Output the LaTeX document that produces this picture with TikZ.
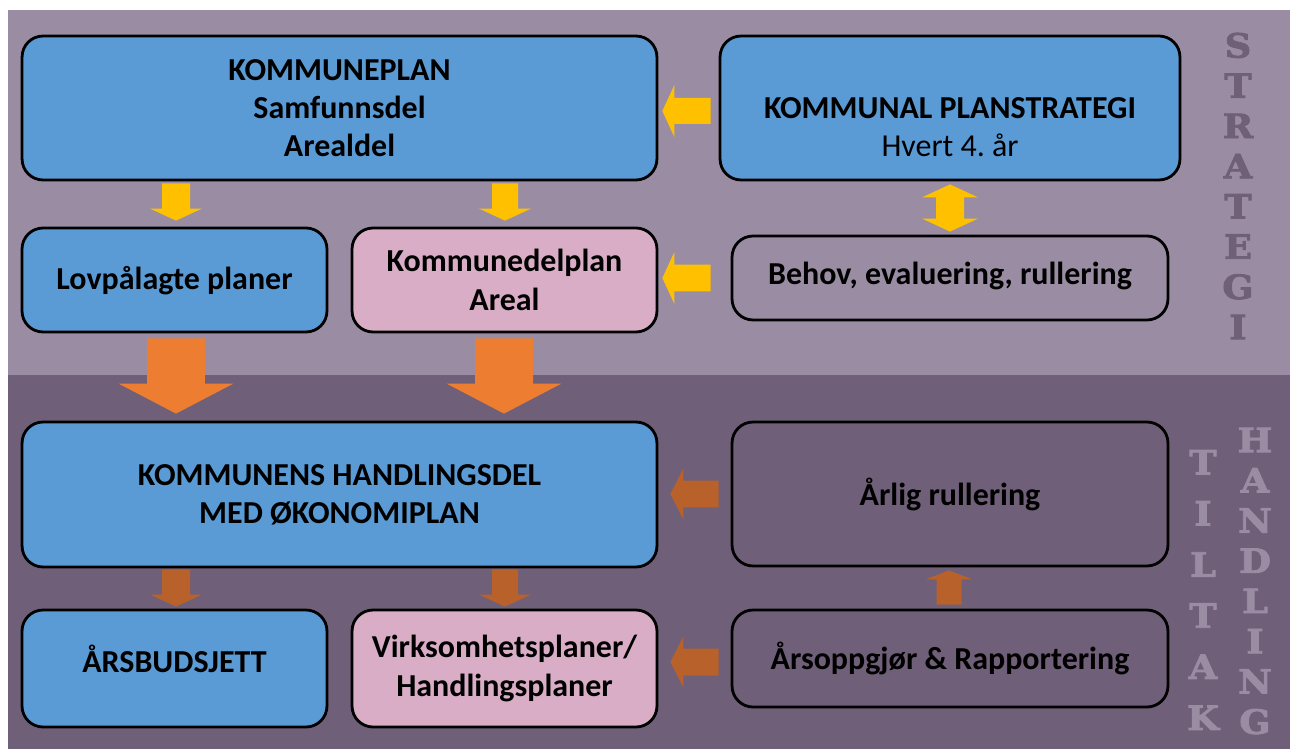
\documentclass[tikz,border=0pt]{standalone}
\usepackage{fontspec}
\setmainfont{Carlito}
\newfontfamily\sidefont[FakeBold=2.5, FakeStretch=1.1]{DejaVu Serif Bold}
\usetikzlibrary{calc}
\usetikzlibrary{positioning}
\definecolor{bgtop}{HTML}{9A8DA3}
\definecolor{bgbot}{HTML}{705F78}
\definecolor{planblue}{HTML}{5B9BD5}
\definecolor{planpink}{HTML}{D8ADC5}
\definecolor{arryellow}{HTML}{FFC000}
\definecolor{arrorange}{HTML}{ED7D31}
\definecolor{arrbrown}{HTML}{B8612A}
\tikzset{planbox/.style = {draw, line width=1.6pt, rounded corners=0.42cm, align=center, inner sep=0,
                           font=\fontsize{18.2}{21.8}\selectfont\bfseries}}
\tikzset{bluebox/.style = {planbox, fill=planblue}}
\tikzset{pinkbox/.style = {planbox, fill=planpink}}
\tikzset{sidetext/.style = {align=center, inner sep=0}}
% block arrow: colour, tail, tip, shaft half width, head half width, head length
\newcommand\blockarrow[6]{%
  \coordinate (tail) at #2;
  \coordinate (tip) at #3;
  \coordinate (hb) at ($(tip)!#6!(tail)$);
  \fill [#1] ($(tail)!#4!90:(tip)$) -- ($(hb)!#4!90:(tip)$) -- ($(hb)!#5!90:(tip)$) -- (tip)
             -- ($(hb)!#5!-90:(tip)$) -- ($(hb)!#4!-90:(tip)$) -- ($(tail)!#4!-90:(tip)$) -- cycle;}

\begin{document}
\begin{tikzpicture}[x=0.02cm, y=-0.02cm]
    \useasboundingbox (0, 0) rectangle (1290, 749);
    \fill [bgtop] (8, 10) rectangle (1290, 375);
    \fill [bgbot] (8, 375) rectangle (1290, 749);

    \node [bluebox, minimum width=12.7cm, minimum height=2.88cm] (plan) at (339.5, 108) {KOMMUNEPLAN\\Samfunnsdel\\Arealdel};
    \node [bluebox, minimum width=9.2cm, minimum height=2.88cm, text depth=0.12cm] (strat) at (950, 108) {\strut\\KOMMUNAL PLANSTRATEGI\\{\mdseries Hvert 4.\ år}};
    \node [bluebox, minimum width=6.1cm, minimum height=2.08cm, text depth=0.1cm] (lov) at (174.5, 280) {Lovpålagte planer};
    \node [pinkbox, minimum width=6.1cm, minimum height=2.08cm] (kdp) at (504.5, 280) {Kommunedelplan\\Areal};
    \node [planbox, minimum width=8.72cm, minimum height=1.68cm, text depth=0.2cm] (behov) at (950, 278) {Behov, evaluering, rullering};

    \node [bluebox, minimum width=12.7cm, minimum height=2.9cm] (hand) at (339.5, 494.5) {KOMMUNENS HANDLINGSDEL\\MED ØKONOMIPLAN};
    \node [planbox, minimum width=8.72cm, minimum height=2.88cm] (arlig) at (950, 494) {Årlig rullering};
    \node [bluebox, minimum width=6.1cm, minimum height=2.34cm, text depth=0.4cm] (budsj) at (174.5, 668.5) {ÅRSBUDSJETT};
    \node [pinkbox, minimum width=6.1cm, minimum height=2.34cm] (virk) at (504.5, 668.5) {Virksomhetsplaner/\\Handlingsplaner};
    \node [planbox, minimum width=8.72cm, minimum height=1.94cm] (arsopp) at (950, 658.5) {Årsoppgjør \& Rapportering};

    % strategi arrows
    \blockarrow{arryellow}{($(strat.west)+(-8, 3)$)}{($(plan.east)+(4, 3)$)}{0.26cm}{0.52cm}{0.24cm}
    \blockarrow{arryellow}{($(behov.west)+(-20, 0)$)}{($(kdp.east)+(4, -2)$)}{0.27cm}{0.52cm}{0.24cm}
    \blockarrow{arryellow}{($(plan.south -| lov.north)+(1.5, 2)$)}{($(lov.north)+(1.5, -6)$)}{0.28cm}{0.52cm}{0.24cm}
    \blockarrow{arryellow}{($(plan.south -| kdp.north)+(0.5, 2)$)}{($(kdp.north)+(0.5, -6)$)}{0.26cm}{0.52cm}{0.24cm}
    \coordinate (mid) at ($(strat.south)!0.5!(behov.north)$);
    \blockarrow{arryellow}{(mid)}{($(strat.south)+(0, 3)$)}{0.28cm}{0.56cm}{0.26cm}
    \blockarrow{arryellow}{(mid)}{($(behov.north)+(0, -3)$)}{0.28cm}{0.56cm}{0.26cm}

    % into handlingsdel
    \blockarrow{arrorange}{($(lov.south)+(1.5, 5)$)}{($(hand.north -| lov.south)+(1.5, -7)$)}{0.58cm}{1.15cm}{0.6cm}
    \blockarrow{arrorange}{($(kdp.south)+(-0.5, 5)$)}{($(hand.north -| kdp.south)+(-0.5, -7)$)}{0.58cm}{1.15cm}{0.6cm}

    % handling arrows
    \blockarrow{arrbrown}{($(arlig.west)+(-12, 0)$)}{($(hand.east)+(12, -0.5)$)}{0.27cm}{0.51cm}{0.26cm}
    \blockarrow{arrbrown}{($(arsopp.west)+(-12, 3.5)$)}{($(virk.east)+(12, -6.5)$)}{0.27cm}{0.51cm}{0.26cm}
    \blockarrow{arrbrown}{($(arsopp.north)+(-1, -4)$)}{($(arlig.south)+(-1, 3)$)}{0.25cm}{0.47cm}{0.18cm}
    \blockarrow{arrbrown}{($(hand.south -| budsj.north)+(1.5, 1)$)}{($(budsj.north)+(1.5, -2)$)}{0.28cm}{0.52cm}{0.24cm}
    \blockarrow{arrbrown}{($(hand.south -| virk.north)+(0.5, 1)$)}{($(virk.north)+(0.5, -2)$)}{0.26cm}{0.52cm}{0.24cm}

    % side texts
    \node [sidetext, text=bgbot, font=\sidefont\fontsize{19}{22.9}\selectfont] (strategi) at (1238, 186) {S\\T\\R\\A\\T\\E\\G\\I};
    \node [sidetext, text=bgtop, font=\sidefont\fontsize{19}{29.1}\selectfont] (tiltak) at (1203, 590) {T\\I\\L\\T\\A\\K};
    \node [sidetext, text=bgtop, font=\sidefont\fontsize{19}{22.9}\selectfont] (handling) at (1255, 581) {H\\A\\N\\D\\L\\I\\N\\G};
  \end{tikzpicture}
\end{document}
